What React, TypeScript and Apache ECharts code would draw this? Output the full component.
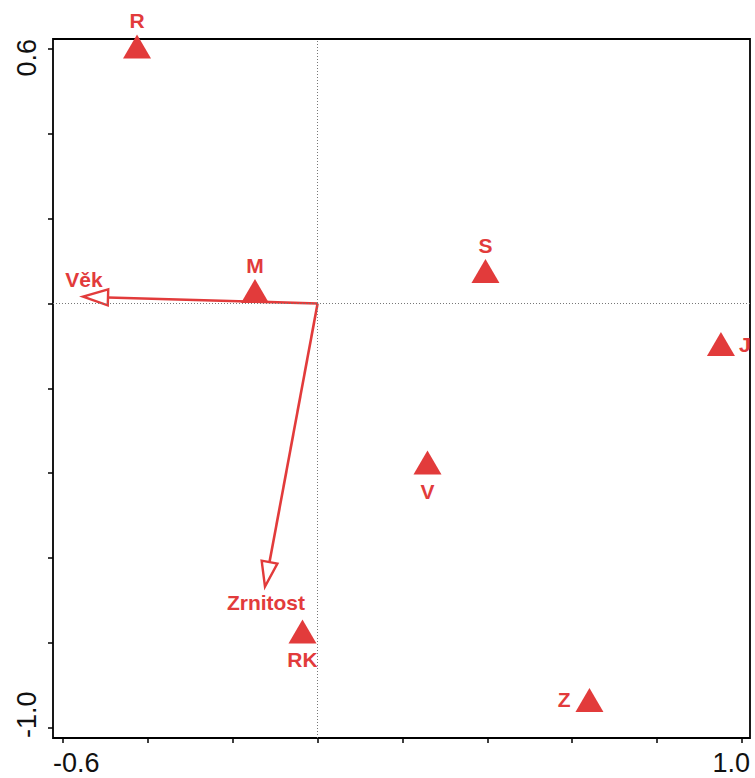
import React, { useEffect, useRef } from "react";
import * as echarts from "echarts";

const RED = "#e23b3b";
const FONT = "'Liberation Sans', Arial, Helvetica, sans-serif";

// axis extents (frame edges) and ticks
const X_MIN = -0.6235;
const X_MAX = 1.019;
const Y_MIN = -1.0243;
const Y_MAX = 0.6235;
const xTickValues = [-0.6, -0.4, -0.2, 0, 0.2, 0.4, 0.6, 0.8, 1.0];
const yTickValues = [-1.0, -0.8, -0.6, -0.4, -0.2, 0, 0.2, 0.4, 0.6];
const xTickLabels = ["-0.6", "1.0"];
const yTickLabels = ["-1.0", "0.6"];

// sites (triangles)
const siteNames = ["R", "M", "S", "J", "V", "RK", "Z"];
const siteX = [-0.4255, -0.1475, 0.3956, 0.9505, 0.259, -0.0356, 0.6407];
const siteY = [0.606, 0.0295, 0.0766, -0.0955, -0.375, -0.773, -0.9347];
const siteLabelSide = ["top", "top", "top", "right", "bottom", "bottom", "left"];

// environmental variables (arrows)
const envNames = ["Věk", "Zrnitost"];
const envX = [-0.5528, -0.124];
const envY = [0.016, -0.6676];
const envLabelDy = [-17, 16];

export default function App() {
  const ref = useRef<HTMLDivElement>(null);
  useEffect(() => {
    if (!ref.current) return;
    const chart = echarts.init(ref.current, null, { renderer: "svg" });
    const sideDistance: Record<string, number> = { top: 3, bottom: 6, left: 5, right: 4 };
    const pick = (v: number, lo: number, hi: number, labels: string[]) =>
      Math.abs(v - lo) < Math.abs(v - hi) ? labels[0] : labels[1];
    const option: any = {
      animation: false,
      backgroundColor: "#fff",
      grid: {
        left: 53,
        top: 39,
        right: 5,
        bottom: 40,
        show: true,
        borderColor: "#000",
        borderWidth: 1.8,
        backgroundColor: "transparent",
        containLabel: false,
      },
      xAxis: {
        type: "value",
        min: X_MIN,
        max: X_MAX,
        axisLine: { show: false, onZero: false },
        splitLine: { show: false },
        axisTick: {
          show: true,
          customValues: xTickValues,
          length: 5,
          lineStyle: { color: "#000", width: 1.5 },
        },
        axisLabel: {
          show: true,
          customValues: [X_MIN, X_MAX],
          formatter: (v: number) => pick(v, X_MIN, X_MAX, xTickLabels),
          showMinLabel: true,
          showMaxLabel: true,
          alignMinLabel: "left",
          alignMaxLabel: "right",
          fontSize: 27,
          fontFamily: FONT,
          color: "#111",
          margin: 11,
        },
      },
      yAxis: {
        type: "value",
        min: Y_MIN,
        max: Y_MAX,
        axisLine: { show: false, onZero: false },
        splitLine: { show: false },
        axisTick: {
          show: true,
          customValues: yTickValues,
          length: 5,
          lineStyle: { color: "#000", width: 1.5 },
        },
        axisLabel: {
          show: true,
          customValues: [Y_MIN, Y_MAX],
          formatter: (v: number) => pick(v, Y_MIN, Y_MAX, yTickLabels),
          showMinLabel: true,
          showMaxLabel: true,
          rotate: 90,
          align: "center",
          verticalAlign: "bottom",
          alignMinLabel: "left",
          alignMaxLabel: "right",
          fontSize: 27,
          fontFamily: FONT,
          color: "#111",
          margin: 13,
        },
      },
      series: [
        {
          type: "scatter",
          symbol: "triangle",
          symbolSize: [28, 24],
          clip: false,
          itemStyle: { color: RED, opacity: 1 },
          data: siteNames.map((n, i) => ({
            name: n,
            value: [siteX[i], siteY[i]],
            label: {
              show: true,
              position: siteLabelSide[i],
              distance: sideDistance[siteLabelSide[i]],
              formatter: n,
              color: RED,
              opacity: 1,
              fontSize: 21,
              fontWeight: "bold",
              fontFamily: FONT,
            },
          })),
          markLine: {
            silent: true,
            symbol: "none",
            label: { show: false },
            lineStyle: { color: "#777", type: [1, 2], width: 1, opacity: 1 },
            data: [{ xAxis: 0 }, { yAxis: 0 }],
          },
          z: 2,
        },
        {
          type: "custom",
          clip: false,
          z: 3,
          data: envNames.map((n, i) => [envX[i], envY[i]]),
          renderItem: (params: any, api: any) => {
            const i = params.dataIndex;
            const o = api.coord([0, 0]);
            const t = api.coord([api.value(0), api.value(1)]);
            const dx = t[0] - o[0];
            const dy = t[1] - o[1];
            const len = Math.hypot(dx, dy);
            const ux = dx / len;
            const uy = dy / len;
            const headLen = 25;
            const headHalf = 8;
            const bx = t[0] - ux * headLen;
            const by = t[1] - uy * headLen;
            const px = -uy;
            const py = ux;
            return {
              type: "group",
              children: [
                {
                  type: "line",
                  shape: { x1: o[0], y1: o[1], x2: bx, y2: by },
                  style: { stroke: RED, lineWidth: 2.6 },
                },
                {
                  type: "polygon",
                  shape: {
                    points: [
                      [t[0], t[1]],
                      [bx + px * headHalf, by + py * headHalf],
                      [bx - px * headHalf, by - py * headHalf],
                    ],
                  },
                  style: { fill: "#fff", stroke: RED, lineWidth: 2.4 },
                },
                {
                  type: "text",
                  x: t[0] + 1,
                  y: t[1] + envLabelDy[i],
                  style: {
                    text: envNames[i],
                    fill: RED,
                    font: `bold 21px ${FONT}`,
                    align: "center",
                    verticalAlign: "middle",
                  },
                },
              ],
            };
          },
        },
      ],
    };
    chart.setOption(option);
    return () => chart.dispose();
  }, []);
  return (
    <div
      ref={ref}
      style={{ position: "absolute", left: 0, top: 0, width: 755, height: 778 }}
    />
  );
}
